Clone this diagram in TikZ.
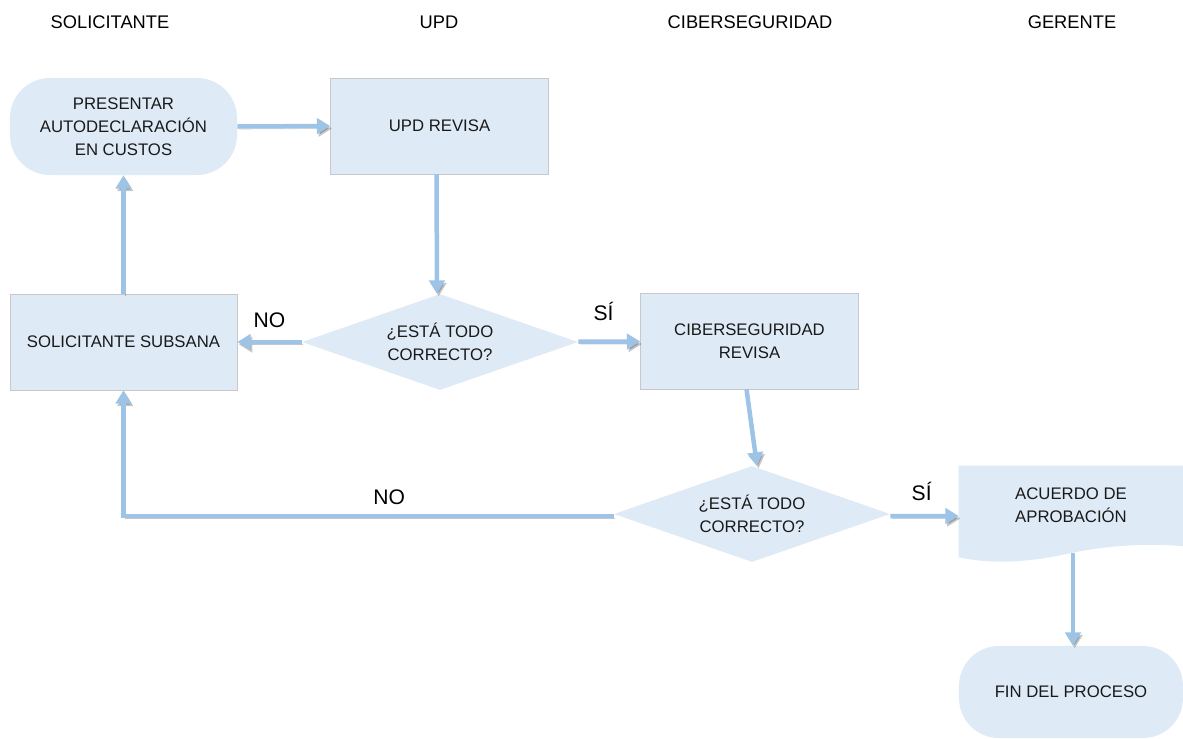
\documentclass[tikz,border=0pt]{standalone}
\usepackage{fontspec}
\setmainfont{Liberation Sans}
\usetikzlibrary{
  shapes.geometric, % diamond
  arrows.meta,
  positioning,
  backgrounds,      % layer for the document shape
  calc,             % shifted end points
}
\definecolor{boxfill}{HTML}{DEEBF7}
\definecolor{flowblue}{HTML}{9DC3E6}
\definecolor{boxline}{HTML}{C8C8C8}
\def\mybw{5.45cm}
\def\mybh{2.4cm}
\tikzset{
  font=\fontsize{11.9}{16.5}\selectfont,
  semithick,
  >=stealth,
  lane/.style={
    font=\fontsize{13}{15}\selectfont
  },
  my box/.style={
    rectangle,
    fill=boxfill,
    draw=boxline,
    thin,
    minimum width=\mybw,
    minimum height=\mybh,
    inner sep=1mm,
    align=center,
    text=black!90
  },
  my term/.style={
    my box,
    draw=none,
    rounded corners=1cm
  },
  my test/.style={
    diamond,
    fill=boxfill,
    aspect=2.9,
    minimum width=6.9cm,
    minimum height=2.4cm,
    inner sep=0pt,
    align=center,
    text=black!90
  },
  flow/.style={
    draw=flowblue,
    line width=3.2pt,
    -{Triangle[length=9.5pt,width=11pt]},
    preaction={
      draw=black,
      opacity=0.22,
      transform canvas={shift={(1.2pt,-1.8pt)}}
    }
  },
  lbl/.style={
    font=\fontsize{15}{18}\selectfont,
    text=black
  }
}

\begin{document}
\begin{tikzpicture}[x=0.025cm,y=-0.025cm]
\useasboundingbox (0,0) rectangle (1183,738);
% lanes
\node[lane] (hsol) at (110,22) {SOLICITANTE};
\node[lane] (hupd) at (439,22) {UPD};
\node[lane] (hcib) at (750,22) {CIBERSEGURIDAD};
\node[lane] (hger) at (1072,22) {GERENTE};
% steps
\node[my term, minimum width=5.675cm, minimum height=2.425cm] (start) at (123.5,126.5)
  {PRESENTAR\\AUTODECLARACIÓN\\EN CUSTOS};
\node[my box] (upd) at (439.5,126) {UPD REVISA};
\node[my test] (d1) at (440,342) {¿ESTÁ TODO\\CORRECTO?};
\node[my box, minimum width=5.675cm] (subsana) at (123.5,342) {SOLICITANTE SUBSANA};
\node[my box] (ciber) at (749.5,341) {CIBERSEGURIDAD\\REVISA};
\node[my test] (d2) at (752,514) {¿ESTÁ TODO\\CORRECTO?};
\node[rectangle, minimum width=5.6cm, minimum height=2.275cm, align=center,
      text=black!90] (acuerdo) at (1071,511.5) {ACUERDO DE\\APROBACIÓN\\[-7pt]};
\node[my term, minimum width=5.6cm, minimum height=2.3cm] (fin) at (1071,692)
  {FIN DEL PROCESO};
\begin{scope}[on background layer]
  \fill[boxfill] (acuerdo.south west) -- (acuerdo.north west) -- (acuerdo.north east)
    -- ($(acuerdo.south east)+(0,-11)$)
    .. controls (1150,543) and (1110,545) .. (1071,553)
    .. controls (1040,560) and (1000,566) .. (acuerdo.south west) -- cycle;
\end{scope}
% flow
\draw[flow] (start.east) -- (upd.west);
\draw[flow] ($(upd.south)+(-3,0)$) -- ($(d1.north)+(-3,0)$);
\draw[flow] (d1.west) -- node[lbl, above=5pt] {NO} (subsana.east);
\draw[flow] (subsana.north) -- (start.south);
\draw[flow] ($(d1.east)+(0,-0.5)$) -- node[lbl, above=10pt, xshift=-4] {SÍ} ($(ciber.west)+(0,0.5)$);
\draw[flow] ($(ciber.south)+(-3,0)$) -- ($(d2.north)+(5,0)$);
\draw[flow] ($(d2.west)+(0,2)$) -| node[lbl, above=3pt, pos=0.229] {NO} (subsana.south);
\draw[flow] ($(d2.east)+(0,2)$) -- node[lbl, above=6pt, xshift=-2] {SÍ} ($(acuerdo.west)+(0,4.5)$);
\draw[flow] ($(acuerdo.south)+(2,-4)$) -- ($(fin.north)+(2,0)$);
\end{tikzpicture}
\end{document}
